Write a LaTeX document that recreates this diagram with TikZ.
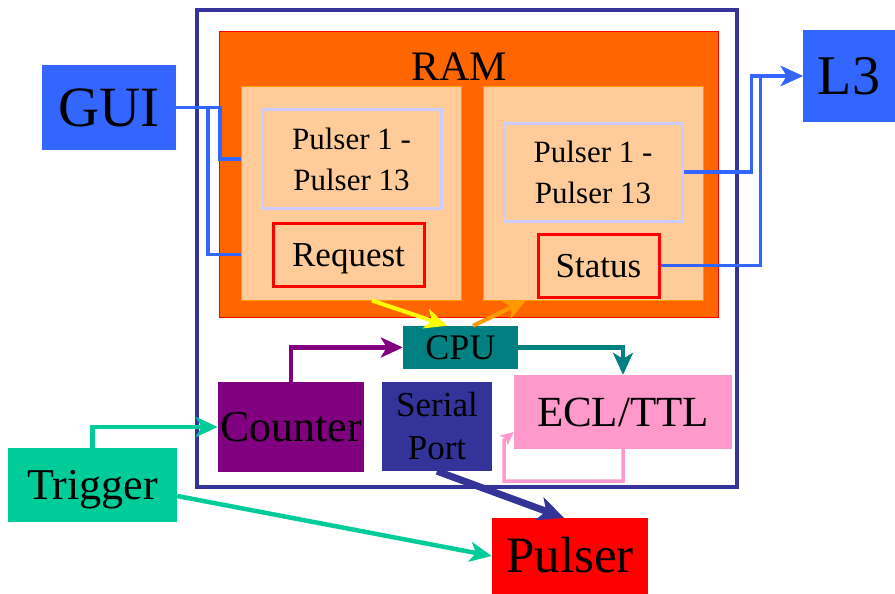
\documentclass[tikz,border=0pt]{standalone}
\usepackage{fontspec}
\setmainfont{Liberation Serif}
\usetikzlibrary{arrows.meta}
\definecolor{ctlNavy}{HTML}{333399}
\definecolor{ctlOrange}{HTML}{FF6600}
\definecolor{ctlPeach}{HTML}{FFCC99}
\definecolor{ctlAmber}{HTML}{FF9900}
\definecolor{ctlLilac}{HTML}{CCCCFF}
\definecolor{ctlBlue}{HTML}{3366FF}
\definecolor{ctlTeal}{HTML}{008080}
\definecolor{ctlPurple}{HTML}{800080}
\definecolor{ctlPink}{HTML}{FF99CC}
\definecolor{ctlGreen}{HTML}{00CC99}
\definecolor{ctlYellow}{HTML}{FFFF00}
\newcommand{\fs}[2]{\fontsize{#1}{#2}\selectfont}

\begin{document}
\begin{tikzpicture}[x=1pt, y=-1pt,
  every node/.style={align=center, inner sep=0pt, text=black},
  sz/.style 2 args={minimum width=#1, minimum height=#2},
  lbl/.style={font=\fs{#1}{#1}, text height=0.66*#1pt, text depth=0pt},
  solid box/.style={fill=#1, draw=none},
  ring/.style={draw=#1, line width=3pt},
  bus/.style={draw=ctlBlue, line width=3.5pt},
  arr/.style={-{Stealth[length=22pt, width=20pt, inset=6pt]}},
  link/.style={line width=#1},
]
  \useasboundingbox (0,0) rectangle (895,594);
  % controller frame and memory
  \node[sz={540pt}{477pt}, draw=ctlNavy, line width=4pt] (frame) at (467,248.5) {};
  \node[sz={499pt}{285pt}, fill=ctlOrange, draw=red, line width=1pt] (ram) at (468.5,174.5) {};
  \node[lbl=42] (ramlbl) at (459,67) {RAM};
  \node[sz={220pt}{213pt}, fill=ctlPeach, draw=ctlAmber, line width=1pt] (peachL) at (351,193.5) {};
  \node[sz={220pt}{213pt}, fill=ctlPeach, draw=ctlAmber, line width=1pt] (peachR) at (593,193.5) {};
  \node[sz={179pt}{98pt}, ring=ctlLilac, font=\fs{31}{41}] (pulL) at (351.5,159) {Pulser 1 -\\Pulser 13};
  \node[sz={151pt}{63pt}, ring=red, lbl=35] (req) at (348.5,254.5) {Request};
  \node[sz={178pt}{98pt}, ring=ctlLilac, font=\fs{31}{41}] (pulR) at (593,172) {Pulser 1 -\\Pulser 13};
  \node[sz={121pt}{63pt}, ring=red, lbl=35] (stat) at (598.5,265.5) {Status};
  % outside world
  \node[sz={134pt}{85pt}, solid box=ctlBlue, lbl=57] (gui) at (109,107.5) {GUI};
  \node[sz={92pt}{92pt}, solid box=ctlBlue, lbl=56] (l3) at (849,76) {L3};
  \node[sz={169pt}{74pt}, solid box=ctlGreen, lbl=44] (trigger) at (92.5,485) {Trigger};
  \node[sz={156pt}{76pt}, solid box=red, lbl=51] (pulser) at (570,556) {Pulser};
  % controller parts
  \node[sz={115pt}{43pt}, solid box=ctlTeal, lbl=36] (cpu) at (460.5,347.5) {CPU};
  \node[sz={146pt}{90pt}, solid box=ctlPurple, lbl=44] (counter) at (291,427) {Counter};
  \node[sz={110pt}{89pt}, solid box=ctlNavy, font=\fs{35}{43}] (serial) at (437,426.5) {Serial\\Port};
  \node[sz={218pt}{74pt}, solid box=ctlPink, lbl=43] (ecl) at (623,412) {ECL/TTL};

  \draw[bus] (gui.east) -- ++(44,0) |- (peachL.west |- pulL.west);
  \draw[bus] (gui.east) -- ++(32,0) |- (peachL.west |- req.west);
  \draw[bus, arr] (pulR.east) -- ++(68,0) |- (l3.west);
  \draw[bus, arr] (stat.east) -- ++(100,0) |- (l3.west);
  \draw[link=4pt, ctlYellow, arr] ([xshift=21pt]peachL.south) -- ([xshift=-13.5pt]cpu.north);
  \draw[link=4pt, ctlAmber, arr] ([xshift=12.5pt]cpu.north) -- ([xshift=-67pt]peachR.south);
  \draw[link=4.5pt, ctlPurple, arr] (counter.north) |- (cpu.west);
  \draw[link=4.5pt, ctlTeal, arr] (cpu.east) -| (ecl.north);
  \draw[link=3.5pt, ctlPink, -{Stealth[length=13pt, width=12pt, inset=3pt]}] (ecl.south) -- ++(0,32) -| ++(-119,-41) -- ([yshift=-20pt]ecl.west);
  \draw[link=7pt, ctlNavy, -{Stealth[length=26pt, width=24pt, inset=7pt]}] (serial.south) -- ([xshift=-6pt]pulser.north);
  \draw[link=4.5pt, ctlGreen, arr] (trigger.north) |- (counter.west);
  \draw[link=4.5pt, ctlGreen, arr] ([yshift=-11pt]trigger.east) -- (pulser.west);
\end{tikzpicture}
\end{document}
